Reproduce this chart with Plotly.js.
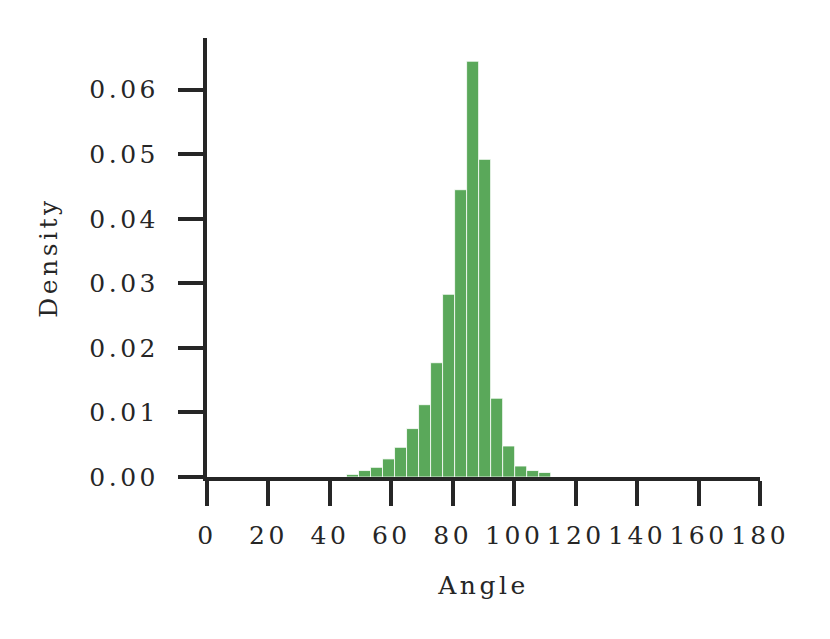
<!DOCTYPE html>
<html>
<head>
<meta charset="utf-8">
<script src="https://cdn.plot.ly/plotly-3.0.1.min.js"></script>
<style>
  html, body { margin: 0; padding: 0; background: #fff; }
  #chart { width: 830px; height: 639px; }
  .main-svg text { letter-spacing: 3.5px; }
</style>
</head>
<body>
<div id="chart"></div>
<script>
// Histogram bins (centres) and density values
const binCenters = [47.36, 51.27, 55.18, 59.09, 63.00, 66.91, 70.82, 74.73, 78.64, 82.55, 86.46, 90.37, 94.28, 98.19, 102.10, 106.01, 109.92];
const density    = [0.0004, 0.0010, 0.0015, 0.0028, 0.0046, 0.0075, 0.0112, 0.0177, 0.0283, 0.0445, 0.0644, 0.0492, 0.0122, 0.0048, 0.0017, 0.0010, 0.0007];
const binWidth = 3.91;
const xTicks = [0, 20, 40, 60, 80, 100, 120, 140, 160, 180];
const yTicks = [0.00, 0.01, 0.02, 0.03, 0.04, 0.05, 0.06];
const xLabel = 'Angle';
const yLabel = 'Density';

const ink = '#262626';
const fontFam = 'DejaVu Serif';
const fs = 25;

const trace = {
  type: 'bar',
  x: binCenters,
  y: density,
  width: binCenters.map(() => binWidth),
  marker: { color: 'rgb(90,168,90)', line: { color: '#ffffff', width: 0.8 } },
  hoverinfo: 'skip'
};

const layout = {
  width: 830, height: 639,
  paper_bgcolor: '#ffffff', plot_bgcolor: '#ffffff',
  margin: { l: 207, r: 70, t: 38, b: 162 },
  showlegend: false,
  bargap: 0,
  font: { family: fontFam, size: fs, color: ink },
  xaxis: {
    range: [0, 180], tickvals: xTicks, ticktext: xTicks.map(String),
    showgrid: false, zeroline: false,
    showline: true, linecolor: ink, linewidth: 4,
    ticks: 'outside', ticklen: 25, tickwidth: 4, tickcolor: ink,
    ticklabelstandoff: 8,
    tickfont: { family: fontFam, size: fs, color: ink },
    title: { text: xLabel, font: { family: fontFam, size: fs, color: ink }, standoff: 28 },
    automargin: false, fixedrange: true
  },
  yaxis: {
    range: [0, 0.068], tickvals: yTicks, ticktext: yTicks.map(v => v.toFixed(2)),
    showgrid: false, zeroline: false,
    showline: true, linecolor: ink, linewidth: 4,
    ticks: 'outside', ticklen: 25, tickwidth: 4, tickcolor: ink,
    ticklabelstandoff: 14,
    tickfont: { family: fontFam, size: fs, color: ink },
    title: { text: yLabel, font: { family: fontFam, size: fs, color: ink }, standoff: 40 },
    automargin: false, fixedrange: true
  }
};

Plotly.newPlot('chart', [trace], layout, { displayModeBar: false, staticPlot: true });
</script>
</body>
</html>
